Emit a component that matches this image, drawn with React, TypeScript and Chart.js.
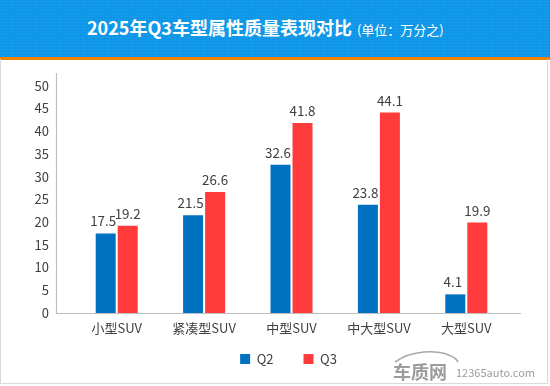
import React, { useEffect, useRef } from 'react';
import { Chart, registerables } from 'chart.js';

Chart.register(...registerables);

const FONT = '"Microsoft YaHei", "Noto Sans CJK SC", "Noto Sans", sans-serif';

const categories = ['小型SUV', '紧凑型SUV', '中型SUV', '中大型SUV', '大型SUV'];
const q2Values = [17.5, 21.5, 32.6, 23.8, 4.1];
const q3Values = [19.2, 26.6, 41.8, 44.1, 19.9];
const seriesNames = ['Q2', 'Q3'];
const seriesColors = ['#0070C0', '#FF3B3B'];
const yTickValues = [0, 5, 10, 15, 20, 25, 30, 35, 40, 45, 50];
const titleText = '2025年Q3车型属性质量表现对比';
const unitText = '(单位：万分之)';

const TEXT_COLOR = '#404040';
const AXIS_COLOR = '#BFBFBF';

const axisLines = {
  id: 'axisLines',
  afterLayout(chart: any) {
    // widen the label clip areas so tick labels can sit outside the tight axis boxes
    const { x, y } = chart.scales;
    if (y) y.left = 0;
    if (x) x.bottom = chart.height;
  },
  afterDatasetsDraw(chart: any) {
    const { ctx, chartArea } = chart;
    const xLeft = Math.round(chartArea.left - 17.5) + 0.5;
    const yBottom = Math.round(chartArea.bottom) + 0.5;
    ctx.save();
    ctx.strokeStyle = AXIS_COLOR;
    ctx.lineWidth = 1.2;
    ctx.beginPath();
    ctx.moveTo(xLeft, chartArea.top);
    ctx.lineTo(xLeft, yBottom);
    ctx.lineTo(chartArea.right + 11, yBottom);
    ctx.stroke();
    ctx.restore();
  },
};

const labelShift = [-2.5, 0];

const valueLabels = {
  id: 'valueLabels',
  afterDatasetsDraw(chart: any) {
    const { ctx } = chart;
    ctx.save();
    ctx.font = `13.4px ${FONT}`;
    ctx.fillStyle = TEXT_COLOR;
    ctx.textAlign = 'center';
    ctx.textBaseline = 'alphabetic';
    chart.data.datasets.forEach((ds: any, i: number) => {
      chart.getDatasetMeta(i).data.forEach((bar: any, j: number) => {
        ctx.fillText(String(ds.data[j]), bar.x + labelShift[i], bar.y - 7);
      });
    });
    ctx.restore();
  },
};

function BarChart() {
  const ref = useRef<HTMLCanvasElement | null>(null);
  useEffect(() => {
    if (!ref.current) return;
    const chart = new Chart(ref.current, {
      type: 'bar',
      data: {
        labels: categories,
        datasets: [
          {
            label: seriesNames[0],
            data: q2Values,
            backgroundColor: seriesColors[0],
            barPercentage: 0.909,
            categoryPercentage: 0.5034,
          },
          {
            label: seriesNames[1],
            data: q3Values,
            backgroundColor: seriesColors[1],
            barPercentage: 0.909,
            categoryPercentage: 0.5034,
          },
        ],
      },
      options: {
        animation: false,
        responsive: false,
        maintainAspectRatio: false,
        devicePixelRatio: 1,
        layout: { padding: { top: 14, left: 67, right: 40, bottom: 10.5 } },
        scales: {
          x: {
            grid: { display: false, drawTicks: false },
            border: { display: false },
            ticks: { font: { family: FONT, size: 13 }, color: TEXT_COLOR, padding: 7, maxRotation: 0, autoSkip: false },
            afterFit(scale: any) {
              scale.height = 9.5;
              scale.paddingLeft = 0;
              scale.paddingRight = 0;
            },
          },
          y: {
            min: 0,
            max: 52.8,
            grid: { display: false, drawTicks: false },
            border: { display: false },
            ticks: { font: { family: FONT, size: 13 }, color: TEXT_COLOR, padding: 24 },
            afterBuildTicks(scale: any) {
              scale.ticks = yTickValues.map((v) => ({ value: v }));
            },
            afterFit(scale: any) {
              scale.width = 6;
              scale.paddingTop = 0;
              scale.paddingBottom = 0;
            },
          },
        },
        plugins: {
          legend: {
            position: 'bottom',
            labels: {
              boxWidth: 10,
              boxHeight: 10,
              padding: 30,
              font: { family: FONT, size: 13 },
              color: TEXT_COLOR,
            },
          },
          tooltip: { enabled: false },
        },
      },
      plugins: [axisLines, valueLabels],
    } as any);
    return () => chart.destroy();
  }, []);
  return (
    <canvas
      ref={ref}
      width={550}
      height={327}
      style={{ position: 'absolute', left: 0, top: 59, width: 550, height: 327 }}
    />
  );
}

export default function App() {
  useEffect(() => {
    document.body.style.margin = '0';
  }, []);
  return (
    <div style={{ position: 'relative', width: 550, height: 386, background: '#fff', overflow: 'hidden', fontFamily: FONT }}>
      <div
        style={{
          position: 'absolute',
          left: 0,
          top: 0,
          width: 550,
          height: 57,
          backgroundColor: '#0E97E8',
          backgroundImage: 'radial-gradient(rgba(255,255,255,0.10) 0.8px, transparent 0.9px)',
          backgroundSize: '3px 3px',
        }}
      />
      <div style={{ position: 'absolute', left: 0, top: 57, width: 550, height: 2.5, background: '#F08300' }} />
      <div
        style={{
          position: 'absolute',
          left: 0,
          top: 59,
          width: 546,
          height: 324,
          borderLeft: '1px solid #D9D9D9',
          borderRight: '1px solid #D9D9D9',
          borderBottom: '1px solid #D9D9D9',
        }}
      />
      <div
        style={{
          position: 'absolute',
          left: 87,
          top: 14,
          height: 24,
          display: 'flex',
          alignItems: 'baseline',
          color: '#fff',
          whiteSpace: 'nowrap',
        }}
      >
        <span style={{ fontSize: 18, fontWeight: 'bold' }}>{titleText}</span>
        <span style={{ fontSize: 13, marginLeft: 5 }}>{unitText}</span>
      </div>
      <BarChart />
      <svg style={{ position: 'absolute', left: 390, top: 348, width: 80, height: 36 }} viewBox="0 0 80 36">
        <path
          d="M5 14 C12 9, 22 5, 34 4 C46 3, 58 5, 66 11 L68 14"
          fill="none"
          stroke="#A8A8A8"
          strokeWidth="1.6"
        />
      </svg>
      <div
        style={{
          position: 'absolute',
          left: 393,
          top: 361,
          fontSize: 18,
          fontWeight: 'bold',
          color: '#9C9C9C',
          letterSpacing: 0,
          lineHeight: '20px',
          whiteSpace: 'nowrap',
        }}
      >
        车质网
      </div>
      <div
        style={{
          position: 'absolute',
          left: 456,
          top: 365,
          fontSize: 11,
          color: '#9C9C9C',
          lineHeight: '14px',
          whiteSpace: 'nowrap',
        }}
      >
        12365auto.com
      </div>
    </div>
  );
}
